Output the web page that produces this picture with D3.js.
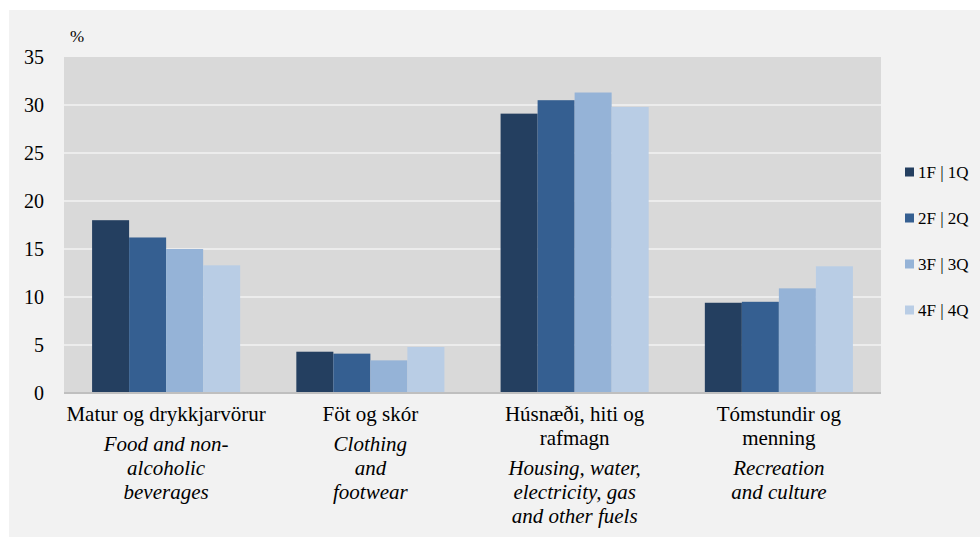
<!DOCTYPE html>
<html>
<head>
<meta charset="utf-8">
<script src="https://cdn.jsdelivr.net/npm/d3@7/dist/d3.min.js"></script>
</head>
<body style="margin:0">
<script>
// ---- data ----
const categories = ["food", "clothing", "housing", "recreation"];
const categoryLabels = [
  ["Matur og drykkjarvörur"],
  ["Föt og skór"],
  ["Húsnæði, hiti og", "rafmagn"],
  ["Tómstundir og", "menning"]
];
const categoryLabelsEn = [
  ["Food and non-", "alcoholic", "beverages"],
  ["Clothing", "and", "footwear"],
  ["Housing, water,", "electricity, gas", "and other fuels"],
  ["Recreation", "and culture"]
];
const seriesNames = ["1F | 1Q", "2F | 2Q", "3F | 3Q", "4F | 4Q"];
const q1 = [18.0, 4.3, 29.1, 9.4];
const q2 = [16.2, 4.1, 30.5, 9.5];
const q3 = [15.0, 3.4, 31.3, 10.9];
const q4 = [13.3, 4.8, 29.8, 13.2];
const yTicks = [0, 5, 10, 15, 20, 25, 30, 35];
const unitLabel = "%";

const seriesValues = [q1, q2, q3, q4];
const colors = ["#243f60", "#355f91", "#95b3d7", "#b9cde5"];
const FONT = "Liberation Serif";

const W = 980, H = 537;
const plot = { left: 64, right: 881, top: 57, bottom: 393 };

const svg = d3.select("body").append("svg").attr("width", W).attr("height", H)
  .attr("font-family", FONT);

function txt(sel) {
  return sel.attr("font-family", FONT).style("font-family", `"${FONT}"`).attr("fill", "#000");
}

// outer panel
svg.append("rect").attr("x", 9).attr("y", 10).attr("width", W - 9).attr("height", H - 10)
  .attr("fill", "#f2f2f2");

// plot area
svg.append("rect").attr("x", plot.left).attr("y", plot.top)
  .attr("width", plot.right - plot.left).attr("height", plot.bottom - plot.top)
  .attr("fill", "#d9d9d9");

const x = d3.scaleBand().domain(categories).range([plot.left, plot.right])
  .paddingInner(0.275).paddingOuter(0.1375);
const xs = d3.scaleBand().domain(seriesNames).range([0, x.bandwidth()]).padding(0);
const y = d3.scaleLinear().domain([0, 35]).range([plot.bottom, plot.top]);

// gridlines
svg.append("g").selectAll("line").data(yTicks.filter(t => t > 0 && t < 35)).join("line")
  .attr("x1", plot.left).attr("x2", plot.right)
  .attr("y1", d => y(d)).attr("y2", d => y(d))
  .attr("stroke", "#f2f2f2").attr("stroke-width", 1.5);

// y axis labels
const yAxis = d3.axisLeft(y).tickValues(yTicks).tickSize(0).tickPadding(0);
const gy = svg.append("g").attr("transform", `translate(44,0)`).call(yAxis);
gy.select(".domain").remove();
gy.attr("font-family", FONT).attr("font-size", 20);
txt(gy.selectAll("text")).attr("font-size", 20);

txt(svg.append("text")).attr("x", 70).attr("y", 42).attr("font-size", 17).text(unitLabel);

// bars
const groups = svg.append("g").selectAll("g").data(categories).join("g")
  .attr("transform", d => `translate(${x(d)},0)`);
groups.selectAll("rect").data((d, i) => seriesNames.map((s, j) => ({ s, j, v: seriesValues[j][i] })))
  .join("rect")
  .attr("x", d => xs(d.s))
  .attr("y", d => y(d.v))
  .attr("width", xs.bandwidth())
  .attr("height", d => y(0) - y(d.v))
  .attr("fill", d => colors[d.j]);

// baseline
svg.append("line").attr("x1", plot.left).attr("x2", plot.right)
  .attr("y1", plot.bottom).attr("y2", plot.bottom)
  .attr("stroke", "#bfbfbf").attr("stroke-width", 2);

// category labels
categories.forEach((c, i) => {
  const cx = x(c) + x.bandwidth() / 2;
  const main = categoryLabels[i];
  const yy = 421;
  main.forEach((line, k) => {
    txt(svg.append("text")).attr("x", cx).attr("y", yy + k * 24)
      .attr("text-anchor", "middle").attr("font-size", 21).text(line);
  });
  const y2 = yy + (main.length - 1) * 24 + 30;
  categoryLabelsEn[i].forEach((line, k) => {
    txt(svg.append("text")).attr("x", cx).attr("y", y2 + k * 24)
      .attr("text-anchor", "middle").attr("font-size", 21).attr("font-style", "italic").text(line);
  });
});

// legend
const leg = svg.append("g").selectAll("g").data(seriesNames).join("g")
  .attr("transform", (d, i) => `translate(905,${172 + i * 46})`);
leg.append("rect").attr("x", 0).attr("y", -4.5).attr("width", 9).attr("height", 9)
  .attr("fill", (d, i) => colors[i]);
txt(leg.append("text")).attr("x", 13).attr("y", 6).attr("font-size", 17).text(d => d);
</script>
</body>
</html>
